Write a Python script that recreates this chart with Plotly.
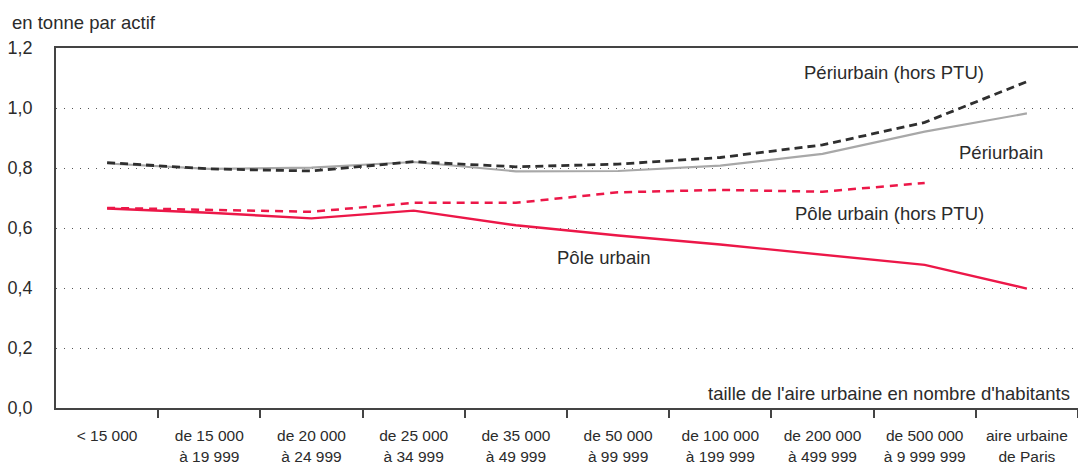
import plotly.graph_objects as go

categories = ["< 15 000", "de 15 000<br>à 19 999", "de 20 000<br>à 24 999", "de 25 000<br>à 34 999",
              "de 35 000<br>à 49 999", "de 50 000<br>à 99 999", "de 100 000<br>à 199 999",
              "de 200 000<br>à 499 999", "de 500 000<br>à 9 999 999", "aire urbaine<br>de Paris"]

periurbain_hors_ptu = [0.818, 0.797, 0.790, 0.821, 0.804, 0.813, 0.835, 0.877, 0.952, 1.088]
periurbain = [0.815, 0.797, 0.801, 0.820, 0.789, 0.790, 0.808, 0.847, 0.921, 0.982]
pole_urbain_hors_ptu = [0.667, 0.661, 0.654, 0.684, 0.684, 0.719, 0.727, 0.721, 0.750, None]
pole_urbain = [0.665, 0.651, 0.632, 0.658, 0.609, 0.575, 0.545, 0.512, 0.477, 0.398]

series_labels = ["Périurbain (hors PTU)", "Périurbain", "Pôle urbain (hors PTU)", "Pôle urbain"]
y_ticks = [0.0, 0.2, 0.4, 0.6, 0.8, 1.0, 1.2]

RED = "#EC1748"
TXT = "#2b2b2b"
FONT = "Liberation Sans, Arial, sans-serif"

L, R, T, B = 56, 0, 48, 58
W, H = 1078, 466
PW, PH = W - L - R, H - T - B

fig = go.Figure()
fig.add_trace(go.Scatter(x=categories, y=periurbain, mode="lines", name=series_labels[1],
                         line=dict(color="#A8A8A8", width=2.2)))
fig.add_trace(go.Scatter(x=categories, y=periurbain_hors_ptu, mode="lines", name=series_labels[0],
                         line=dict(color="#2f2f2f", width=2.8, dash="8px,5px")))
fig.add_trace(go.Scatter(x=categories, y=pole_urbain_hors_ptu, mode="lines", name=series_labels[2],
                         line=dict(color=RED, width=2.5, dash="8px,6px")))
fig.add_trace(go.Scatter(x=categories, y=pole_urbain, mode="lines", name=series_labels[3],
                         line=dict(color=RED, width=2.4)))

ann_font = dict(family=FONT, size=18.5, color=TXT)
fig.add_annotation(x=7.7, y=1.117, xref="x", yref="y", text=series_labels[0], showarrow=False,
                   font=ann_font, xanchor="center", yanchor="middle")
fig.add_annotation(x=8.75, y=0.853, xref="x", yref="y", text=series_labels[1], showarrow=False,
                   font=ann_font, xanchor="center", yanchor="middle")
fig.add_annotation(x=7.66, y=0.647, xref="x", yref="y", text=series_labels[2], showarrow=False,
                   font=ann_font, xanchor="center", yanchor="middle")
fig.add_annotation(x=4.86, y=0.503, xref="x", yref="y", text=series_labels[3], showarrow=False,
                   font=ann_font, xanchor="center", yanchor="middle")
fig.add_annotation(x=(1072 - L) / PW, y=(408 - 393) / PH, xref="paper", yref="paper",
                   text="taille de l'aire urbaine en nombre d'habitants",
                   showarrow=False, font=ann_font, xanchor="right", yanchor="middle")
fig.add_annotation(x=(10 - L) / PW, y=(408 - 22) / PH, xref="paper", yref="paper",
                   text="en tonne par actif", showarrow=False,
                   font=ann_font, xanchor="left", yanchor="middle")

# mask the boundary tick that falls under the left corner of the frame
fig.add_shape(type="line", xref="paper", yref="paper", x0=0, x1=0, y0=-2 / PH, y1=-12 / PH,
              line=dict(color="white", width=4), layer="above")

fig.update_layout(
    width=W, height=H,
    margin=dict(l=L, r=R, t=T, b=B, autoexpand=False),
    paper_bgcolor="white", plot_bgcolor="white",
    showlegend=False,
    separators=", ",
    font=dict(family=FONT, size=15, color=TXT),
)
fig.update_xaxes(
    type="category", tickson="boundaries", ticks="outside", ticklen=8, tickwidth=1.5,
    tickcolor="#444444", showline=True, linecolor="#444444", linewidth=1.6, mirror=True,
    showgrid=False, tickfont=dict(family=FONT, size=15.5, color=TXT), range=[-0.5, 9.5],
    automargin=False, ticklabelstandoff=13,
)
fig.update_yaxes(
    range=[0, 1.2], tickvals=y_ticks, tickformat=".1f", showline=True, linecolor="#444444",
    linewidth=1.6, showgrid=True, gridcolor="#555555", gridwidth=1, griddash="1px,7px",
    zeroline=False, ticks="", tickfont=dict(family=FONT, size=18, color=TXT), ticklabelstandoff=18,
    automargin=False,
)

fig.write_html("out.html", config={"displayModeBar": False})

# remove the browser's default page margin so the figure sits at the window's top-left corner
with open("out.html", "r", encoding="utf-8") as f:
    html = f.read()
html = html.replace("<head>", "<head><style>html,body{margin:0;padding:0;overflow:hidden;}</style>", 1)
with open("out.html", "w", encoding="utf-8") as f:
    f.write(html)
